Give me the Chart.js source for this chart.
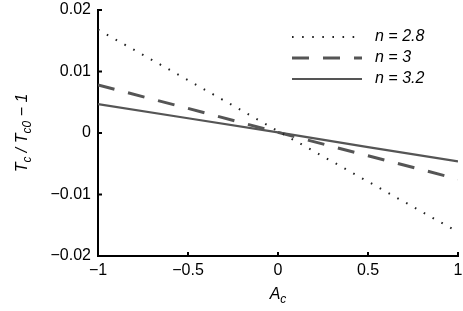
<!DOCTYPE html>
<html>
<head>
<meta charset="utf-8">
<script src="https://cdn.jsdelivr.net/npm/chart.js@4"></script>
<style>
  html, body { margin: 0; padding: 0; background: #fff; }
  #wrap { width: 463px; height: 311px; }
</style>
</head>
<body>
<div id="wrap"><canvas id="tc-chart" width="463" height="311"></canvas></div>
<script>
const acValues = [-1, -0.5, 0, 0.5, 1];
const n28 = [0.0168, 0.0086, 0.0003, -0.0079, -0.0161];
const n3 = [0.0078, 0.0040, 0.0001, -0.0037, -0.0075];
const n32 = [0.0047, 0.0024, 0.0001, -0.0023, -0.0046];
const seriesLabels = ['n = 2.8', 'n = 3', 'n = 3.2'];
const xTicks = [-1, -0.5, 0, 0.5, 1];
const yTicks = [-0.02, -0.01, 0, 0.01, 0.02];

const FONT = '"Liberation Sans", Arial, sans-serif';

function fmt(v) {
  let s = String(Math.round(v * 1000) / 1000);
  return s.replace('-', '\u2212');
}

function toPoints(ys) {
  return acValues.map((x, i) => ({ x: x, y: ys[i] }));
}

const styles = [
  { color: '#222', width: 2, dash: [1.6, 8.5] },
  { color: '#555', width: 3, dash: [17, 14] },
  { color: '#555', width: 2.2, dash: [] }
];

// legend, inward ticks and axis titles with subscripts
const decorations = {
  id: 'decorations',
  afterDraw(chart) {
    const ctx = chart.ctx;
    const xs = chart.scales.x, ys = chart.scales.y;
    const area = chart.chartArea;
    ctx.save();
    ctx.strokeStyle = '#000';
    ctx.lineWidth = 2;
    xTicks.forEach(t => {
      const px = xs.getPixelForValue(t);
      ctx.beginPath(); ctx.moveTo(px, area.bottom); ctx.lineTo(px, area.bottom - 4); ctx.stroke();
    });
    yTicks.forEach(t => {
      const py = ys.getPixelForValue(t);
      ctx.beginPath(); ctx.moveTo(area.left, py); ctx.lineTo(area.left + 4, py); ctx.stroke();
    });

    // legend
    const rows = [37, 58, 79];
    styles.forEach((s, i) => {
      ctx.strokeStyle = s.color;
      ctx.lineWidth = s.width;
      ctx.setLineDash(s.dash);
      ctx.beginPath(); ctx.moveTo(292, rows[i]); ctx.lineTo(362, rows[i]); ctx.stroke();
      ctx.setLineDash([]);
      ctx.fillStyle = '#000';
      ctx.font = 'italic 16px ' + FONT;
      ctx.textBaseline = 'middle';
      ctx.textAlign = 'left';
      ctx.fillText(seriesLabels[i], 375, rows[i]);
    });

    // x title A_c
    drawRich(ctx, [['A', 0, 16], ['c', 5, 12]], (area.left + area.right) / 2, 295, 0);
    // y title T_c / T_c0 - 1
    drawRich(ctx, [['T', 0, 16], ['c', 5, 12], [' / ', 0, 16], ['T', 0, 16], ['c0', 5, 12], [' \u2212 1', 0, 16]],
      23, (area.top + area.bottom) / 2, -Math.PI / 2);
    ctx.restore();
  }
};

function drawRich(ctx, parts, cx, cy, rot) {
  ctx.save();
  ctx.translate(cx, cy);
  ctx.rotate(rot);
  ctx.textBaseline = 'middle';
  ctx.textAlign = 'left';
  ctx.fillStyle = '#000';
  let total = 0;
  parts.forEach(p => { ctx.font = 'italic ' + p[2] + 'px ' + FONT; total += ctx.measureText(p[0]).width; });
  let x = -total / 2;
  parts.forEach(p => {
    ctx.font = 'italic ' + p[2] + 'px ' + FONT;
    ctx.fillText(p[0], x, p[1]);
    x += ctx.measureText(p[0]).width;
  });
  ctx.restore();
}

new Chart(document.getElementById('tc-chart'), {
  type: 'line',
  data: {
    datasets: [n28, n3, n32].map((d, i) => ({
      label: seriesLabels[i],
      data: toPoints(d),
      borderColor: styles[i].color,
      borderWidth: styles[i].width,
      borderDash: styles[i].dash,
      pointRadius: 0,
      fill: false,
      tension: 0
    }))
  },
  options: {
    responsive: false,
    animation: false,
    layout: { padding: { left: 0, top: 10, right: 5, bottom: 0 } },
    plugins: { legend: { display: false }, tooltip: { enabled: false } },
    scales: {
      x: {
        type: 'linear',
        min: -1, max: 1,
        afterBuildTicks: s => { s.ticks = xTicks.map(v => ({ value: v })); },
        afterFit: s => { s.height = 55; s.paddingLeft = 0; s.paddingRight = 0; },
        grid: { display: false, drawTicks: false },
        border: { color: '#000', width: 2 },
        ticks: { color: '#000', font: { family: FONT, size: 16 }, padding: 5, maxRotation: 0, callback: v => fmt(v) }
      },
      y: {
        type: 'linear',
        min: -0.02, max: 0.02,
        afterBuildTicks: s => { s.ticks = yTicks.map(v => ({ value: v })); },
        afterFit: s => { s.width = 98; s.paddingTop = 0; s.paddingBottom = 0; },
        grid: { display: false, drawTicks: false },
        border: { color: '#000', width: 2 },
        ticks: { color: '#000', font: { family: FONT, size: 16 }, padding: 7, callback: v => fmt(v) }
      }
    }
  },
  plugins: [decorations]
});
</script>
</body>
</html>
